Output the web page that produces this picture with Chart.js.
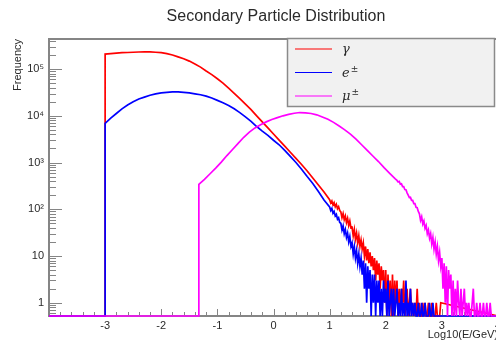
<!DOCTYPE html>
<html lang="en">
<head>
<meta charset="UTF-8">
<title>Secondary Particle Distribution</title>
<script src="https://cdn.jsdelivr.net/npm/chart.js"></script>
<style>
  html, body { margin: 0; padding: 0; background: #fff; overflow: hidden; }
  #wrap { width: 496px; height: 343px; overflow: hidden; }
</style>
</head>
<body>
<div id="wrap"><canvas id="chart" width="520" height="343"></canvas></div>
<script>
// series
const seriesNames = ['γ', 'e±', 'μ±'];
const seriesColors = ['#ff0000', '#0000ff', '#ff00ff'];

// gamma: smooth part in 0.1 bins of log10(E/GeV), noisy tail in 0.02 bins
const gammaMainStart = -3.0;
const gammaMain = [209000, 214000, 219000, 224000, 226000, 229000, 232000, 234000, 234000, 229000,
  224000, 214000, 200000, 182000, 166000, 148000, 129000, 110000, 91000, 76000,
  62000, 50000, 39000, 30200, 23400, 17800, 13500, 10000, 7400, 5500,
  4070, 3020, 2240, 1660, 1230, 910, 660, 468, 331, 234];
const gammaTailStart = 1.0;
const gammaTail = [160, 136, 150, 124, 139, 113, 128, 103, 114, 94,
  88, 66, 81, 60, 72, 52, 64, 45, 56, 40,
  41, 27, 37, 23, 31, 19, 27, 16, 22, 14,
  19, 10, 16, 8, 14, 7, 12, 6, 10, 5,
  9, 3, 8, 4, 7, 2, 6, 3, 5, 1,
  5, 0, 4, 1, 3, 0, 4, 0, 3, 1,
  3, 0, 2, 0, 2, 1, 3, 0, 1, 2,
  0, 1, 2, 0, 1, 0, 1, 0, 2, 0,
  1, 0, 0, 1, 0, 1, 0, 0, 1, 0,
  0, 1, 0, 0, 0, 1, 0, 0, 0, 1];

// electrons
const elecMainStart = -3.0;
const elecMain = [6900, 8900, 11200, 14100, 17000, 20000, 22900, 25100, 27500, 29500,
  30900, 31600, 32400, 32400, 31600, 30900, 29500, 28200, 26300, 24000,
  21400, 19100, 16600, 14100, 11700, 9500, 7600, 5900, 4700, 3800,
  3000, 2400, 1820, 1350, 1000, 720, 500, 355, 240, 158];
const elecTailStart = 1.0;
const elecTail = [112, 94, 104, 82, 90, 72, 78, 61, 66, 52,
  50, 36, 44, 30, 37, 25, 31, 20, 26, 16,
  19, 11, 16, 9, 13, 7, 11, 6, 9, 4,
  8, 2, 7, 1, 6, 2, 5, 0, 4, 1,
  4, 0, 3, 1, 3, 0, 2, 0, 3, 1,
  2, 0, 3, 0, 1, 2, 0, 2, 0, 1,
  2, 0, 1, 0, 2, 0, 1, 0, 3, 0,
  1, 0, 2, 0, 1, 0, 1, 0, 0, 1,
  0, 0, 1, 0, 0, 1, 0, 0, 0, 1,
  0, 0, 1, 0, 0];

// muons
const muonMainStart = -1.33;
const muonMain = [340, 436, 575, 760, 1020, 1410, 1900, 2570, 3470, 4470,
  5500, 6460, 7410, 8320, 9120, 10000, 10700, 11350, 11750, 11600,
  11200, 10500, 9450, 8400, 7240, 6030, 5010, 4070, 3160, 2400,
  1820, 1380, 1050, 776, 589, 447];
const muonTailStart = 2.20;
const muonTail = [415, 385, 395, 345, 350, 305, 305, 265, 262, 225,
  200, 178, 180, 155, 155, 132, 132, 110, 108, 90,
  80, 58, 69, 48, 56, 39, 45, 30, 36, 24,
  30, 18, 25, 14, 20, 11, 16, 8, 12, 6,
  9, 2, 7, 1, 6, 0, 5, 2, 4, 0,
  3, 0, 2, 0, 3, 1, 0, 2, 0, 1,
  2, 0, 1, 0, 1, 0, 0, 1, 2, 0,
  0, 1, 0, 0, 1, 0, 0, 1, 0, 0,
  1, 0, 0, 1, 0];

// axes
const X_MIN = -4, X_MAX = 4;
const Y_MIN = 0.52, Y_MAX = 4.4e5;
const xTickValues = [-3, -2, -1, 0, 1, 2, 3, 4];
const xTickLabels = ['-3', '-2', '-1', '0', '1', '2', '3', '4'];
const yTickValues = [1, 10, 100, 1000, 10000, 100000];
const yTickLabels = ['1', '10', '10²', '10³', '10⁴', '10⁵'];

// empty bins sit on the bottom of the frame, like ROOT does
function histPoints(parts) {
  const pts = [{ x: X_MIN, y: Y_MIN }, { x: parts[0][0], y: Y_MIN }];
  parts.forEach(([start, step, counts]) => {
    counts.forEach((c, i) => pts.push({ x: +(start + i * step).toFixed(3), y: c > 0 ? c : Y_MIN }));
  });
  pts.push({ x: X_MAX, y: Y_MIN });
  return pts;
}

const axisColor = '#858585';
const textColor = '#2a2a2a';

const rootFrame = {
  id: 'rootFrame',
  beforeDatasetsDraw(chart) {
    const { ctx, chartArea: a, scales: { x, y } } = chart;
    ctx.save();
    ctx.strokeStyle = axisColor;
    ctx.lineWidth = 1;
    ctx.beginPath();
    // y ticks, 1..9 per decade, inside the frame
    for (let d = -1; d <= 5; d++) {
      for (let m = 1; m <= 9; m++) {
        const v = m * Math.pow(10, d);
        if (v < Y_MIN || v > Y_MAX) continue;
        const py = Math.round(y.getPixelForValue(v)) + 0.5;
        ctx.moveTo(a.left, py);
        ctx.lineTo(a.left + (m === 1 ? 13 : 7), py);
      }
    }
    // x ticks every 0.2
    for (let k = -20; k <= 20; k++) {
      const px = Math.round(x.getPixelForValue(k / 5)) + 0.5;
      ctx.moveTo(px, a.bottom);
      ctx.lineTo(px, a.bottom - (k % 5 === 0 ? 7 : 4));
    }
    ctx.stroke();

    ctx.lineWidth = 2;
    ctx.beginPath();
    ctx.moveTo(a.right, a.top);
    ctx.lineTo(a.left, a.top);
    ctx.lineTo(a.left, a.bottom);
    ctx.lineTo(a.right, a.bottom);
    ctx.stroke();
    ctx.restore();
  },
  afterDraw(chart) {
    const { ctx, chartArea: a, scales: { x, y } } = chart;
    ctx.save();
    ctx.fillStyle = textColor;

    // title
    ctx.font = '16px "Liberation Sans", Arial, sans-serif';
    ctx.textAlign = 'center';
    ctx.textBaseline = 'middle';
    ctx.fillText('Secondary Particle Distribution', 276, 17);

    // tick labels
    ctx.font = '11px "Liberation Sans", Arial, sans-serif';
    ctx.textAlign = 'right';
    yTickValues.forEach((v, i) => ctx.fillText(yTickLabels[i], a.left - 5, y.getPixelForValue(v)));
    ctx.textAlign = 'center';
    xTickValues.forEach((v, i) => ctx.fillText(xTickLabels[i], x.getPixelForValue(v), a.bottom + 10));

    // axis titles
    ctx.textAlign = 'right';
    ctx.fillText('Log10(E/GeV)', a.right, a.bottom + 19);
    ctx.save();
    ctx.translate(18, a.top);
    ctx.rotate(-Math.PI / 2);
    ctx.fillText('Frequency', 0, 0);
    ctx.restore();

    // legend box
    ctx.fillStyle = '#f1f1f1';
    ctx.fillRect(287, 38, 208, 69);
    ctx.strokeStyle = '#8a8a8a';
    ctx.lineWidth = 1.5;
    ctx.strokeRect(287.5, 38.5, 207, 68);
    seriesNames.forEach((name, i) => {
      const ly = 49 + i * 23.5;
      ctx.strokeStyle = seriesColors[i];
      ctx.lineWidth = 1.2;
      ctx.beginPath();
      ctx.moveTo(295, ly);
      ctx.lineTo(332, ly);
      ctx.stroke();
      ctx.fillStyle = textColor;
      ctx.textAlign = 'left';
      ctx.textBaseline = 'alphabetic';
      const base = name.endsWith('±') ? name.slice(0, -1) : name;
      ctx.font = 'italic 13px "DejaVu Serif", serif';
      ctx.fillText(base, 342, ly + 4);
      if (base !== name) {
        const w = ctx.measureText(base).width;
        ctx.font = '9px "DejaVu Serif", serif';
        ctx.fillText('±', 342 + w + 1, ly - 1);
      }
    });
    ctx.restore();
  }
};

const datasets = [
  { label: seriesNames[0], data: histPoints([[gammaMainStart, 0.1, gammaMain], [gammaTailStart, 0.02, gammaTail]]), borderColor: seriesColors[0], order: 3 },
  { label: seriesNames[1], data: histPoints([[elecMainStart, 0.1, elecMain], [elecTailStart, 0.02, elecTail]]), borderColor: seriesColors[1], order: 2 },
  { label: seriesNames[2], data: histPoints([[muonMainStart, 0.1, muonMain], [muonTailStart, 0.02, muonTail]]), borderColor: seriesColors[2], order: 1 }
].map(ds => ({ ...ds, borderWidth: 1.7, pointRadius: 0, tension: 0, fill: false, clip: 2 }));

new Chart(document.getElementById('chart'), {
  type: 'line',
  data: { datasets },
  options: {
    responsive: false,
    animation: false,
    layout: { padding: { left: 49, top: 39, right: 22, bottom: 27 } },
    plugins: { legend: { display: false }, title: { display: false }, tooltip: { enabled: false } },
    scales: {
      x: { type: 'linear', min: X_MIN, max: X_MAX, display: false },
      y: { type: 'logarithmic', min: Y_MIN, max: Y_MAX, display: false }
    }
  },
  plugins: [rootFrame]
});
</script>
</body>
</html>
